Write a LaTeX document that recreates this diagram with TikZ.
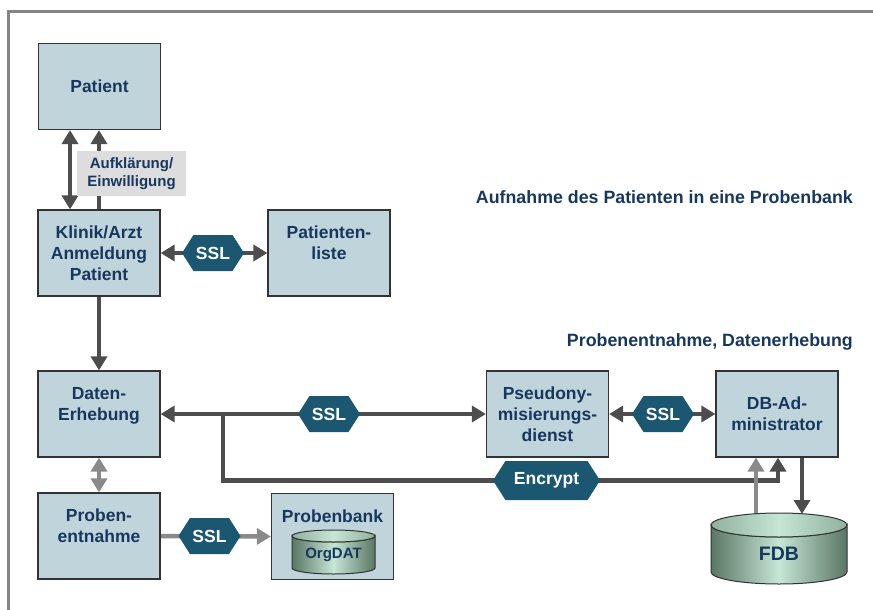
\documentclass[tikz,border=0pt]{standalone}
\usepackage{fontspec}
\setmainfont{Liberation Sans}
\usetikzlibrary{arrows.meta,shapes.symbols,backgrounds}

\definecolor{boxfill}{HTML}{C0D4DB}
\definecolor{boxline}{HTML}{333333}
\definecolor{navy}{HTML}{17375E}
\definecolor{darkline}{HTML}{4D4D4D}
\definecolor{lightline}{HTML}{8A8A8A}
\definecolor{hexfill}{HTML}{1B5770}
\definecolor{notefill}{HTML}{DDDDDD}
\definecolor{framegray}{HTML}{858585}
\definecolor{cylDark}{HTML}{5A7664}
\definecolor{cylLight}{HTML}{C6E6D6}
\definecolor{cylTop}{HTML}{8FB19D}

\newcommand\dgBoxFont{\fontsize{17.5}{21}\selectfont\bfseries}
\newcommand\dgNoteFont{\fontsize{15}{18}\selectfont\bfseries}
\newcommand\dgTitleFont{\fontsize{17.8}{21}\selectfont\bfseries}

\begin{document}
\begin{tikzpicture}[x=1pt,y=-1pt,
  >={Triangle[width=16pt,length=14pt]},
  box/.style={draw=boxline, line width=1.2pt, fill=boxfill,
    minimum width=122pt, minimum height=86pt, inner sep=0pt,
    align=center, text=navy, font=\dgBoxFont},
  boxtext/.style={inner sep=0pt, align=center, text=navy, font=\dgBoxFont},
  note/.style={fill=notefill, minimum width=109pt, minimum height=45pt,
    inner sep=0pt, align=center, text=navy, font=\dgNoteFont},
  hexa/.style={shape=signal, signal to=west and east, signal from=nowhere,
    signal pointer angle=115, fill=hexfill, text=white, font=\dgBoxFont,
    inner sep=0pt, minimum width=62pt, minimum height=36pt},
  headline/.style={inner sep=0pt, text=navy, font=\dgTitleFont},
  darr/.style={draw=darkline, line width=4.5pt},
  larr/.style={draw=lightline, line width=4.5pt},
  cylbody/.style={draw=boxline, line width=1pt, left color=cylDark,
    right color=cylDark, middle color=cylLight},
  cyltop/.style={draw=boxline, line width=1pt, left color=cylTop,
    right color=cylTop, middle color=cylLight},
]
\useasboundingbox (0,0) rectangle (873,610);

% boxes
\node[box] (patient) at (99.5,86.5) {Patient};
\node[box] (klinik) at (99,253) {Klinik/Arzt\\Anmeldung\\Patient};
\node[box] (pliste) at (329,253) {Patienten-\\liste\\\mbox{}};
\node[box] (daten) at (99,414) {Daten-\\Erhebung\\\mbox{}};
\node[box] (proben) at (99,536) {Proben-\\entnahme\\\mbox{}};
\node[box] (pseudo) at (547.5,414) {Pseudony-\\misierungs-\\dienst};
\node[box] (dbadmin) at (777,414) {DB-Ad-\\ministrator};

% sample bank with its OrgDAT store
\node[box] (pbank) at (332.5,536.5) {};
\node[boxtext] (pbanktxt) at (332.5,516) {Probenbank};
\path[cylbody] (292,536) -- (292,568)
  arc[start angle=180, end angle=0, x radius=41.5, y radius=6] -- (375,536)
  arc[start angle=0, end angle=180, x radius=41.5, y radius=6] -- cycle;
\path[cyltop] (333.5,536) ellipse[x radius=41.5, y radius=6];
\node[boxtext, font=\dgNoteFont] (orgdat) at (333.5,555) {OrgDAT};

% research database
\path[cylbody] (711,525) -- (711,572)
  arc[start angle=180, end angle=0, x radius=68, y radius=12] -- (847,525)
  arc[start angle=0, end angle=180, x radius=68, y radius=12] -- cycle;
\path[cyltop] (779,525) ellipse[x radius=68, y radius=12];
\node[boxtext, font=\fontsize{19.5}{23}\selectfont\bfseries] (fdb) at (779,554) {FDB};
\coordinate (fdbin) at (756,514);
\coordinate (fdbout) at (802,514);

% consent note
\node[note] (aufkl) at (131.5,173.5) {Aufklärung/\\Einwilligung};

% channel markers
\node[hexa] (sslA) at (213,253) {SSL};
\node[hexa] (sslB) at (329,414) {SSL};
\node[hexa] (sslC) at (663,414) {SSL};
\node[hexa] (sslD) at (209.5,536) {SSL};
\node[hexa, minimum width=107pt, minimum height=39pt] (enc) at (546.5,480.5) {Encrypt};

% headings
\node[headline, anchor=base east] (title1) at (853,203) {Aufnahme des Patienten in eine Probenbank};
\node[headline, anchor=base east] (title2) at (853,346) {Probenentnahme, Datenerhebung};

\coordinate (br) at (223,414);

\begin{pgfonlayer}{background}
  % outer frame
  \draw[framegray, line width=3pt] (8,610) -- (8,11.5) -- (873,11.5);
  % connectors
  \draw[darr,<->] ([xshift=-29pt]klinik.north) -- ([xshift=-29.5pt]patient.south);
  \draw[darr,->] (klinik.north) -- (klinik.north |- patient.south);
  \draw[darr,<->] (klinik.east) -- (pliste.west);
  \draw[darr,->] (klinik.south) -- (daten.north);
  \draw[larr,<->] (daten.south) -- (proben.north);
  \draw[larr,->] (proben.east) -- (pbank.west);
  \draw[darr,<->] (daten.east) -- (pseudo.west);
  \draw[darr,->] (br) |- (enc.center) -| ([xshift=1pt]dbadmin.south);
  \draw[darr,<->] (pseudo.east) -- (dbadmin.west);
  \draw[larr,->] (fdbin) -- (fdbin |- dbadmin.south);
  \draw[darr,->] (fdbout |- dbadmin.south) -- (fdbout);
\end{pgfonlayer}
\end{tikzpicture}
\end{document}
